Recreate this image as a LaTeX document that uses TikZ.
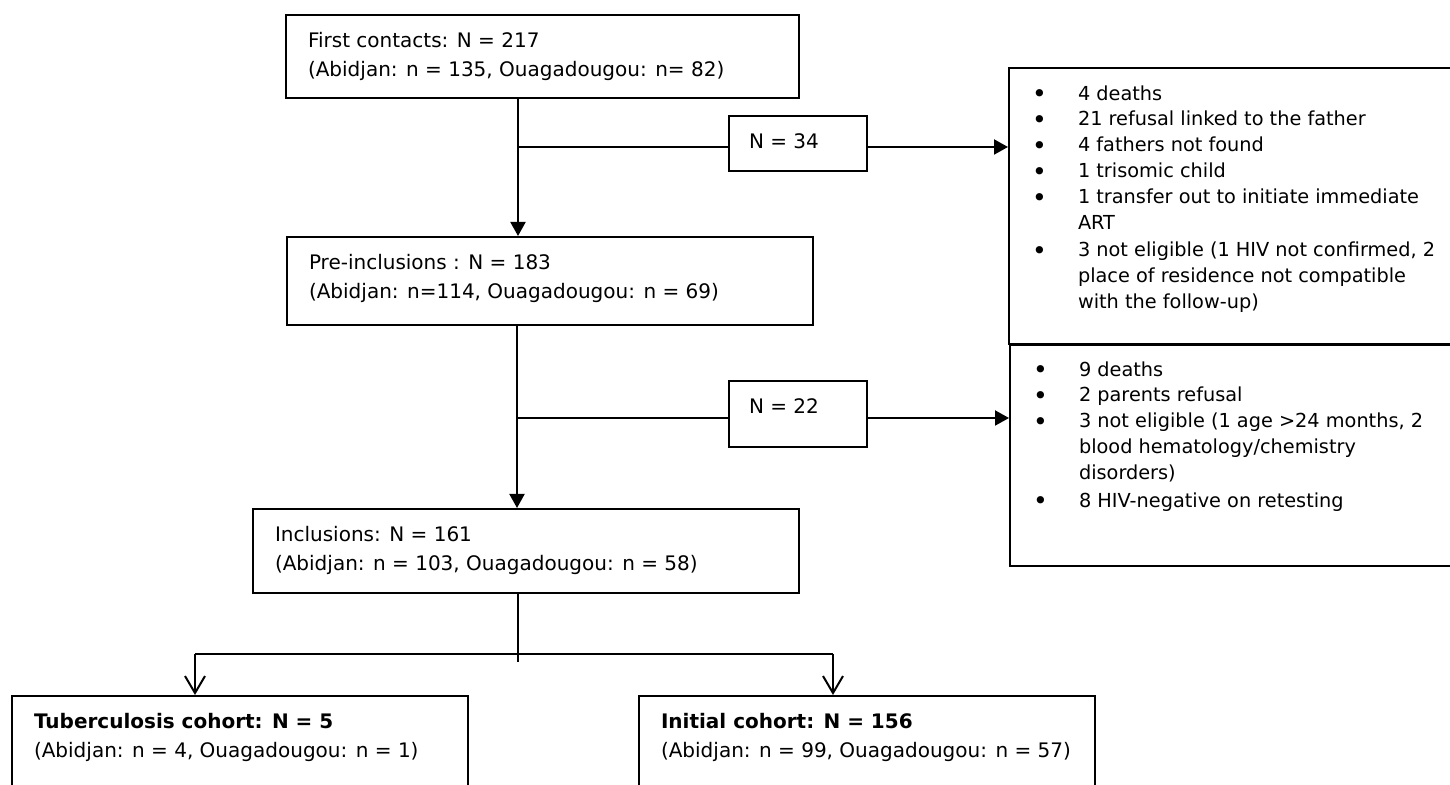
\documentclass[tikz,border=0pt]{standalone}
\usepackage{fontspec}
\setmainfont{DejaVu Sans}
\usetikzlibrary{arrows.meta}

% box text: height, width, lines (text sits at the top)
\newcommand{\boxbody}[3]{\parbox[c][#1][t]{#2}{\vspace*{6pt}\raggedright\strut#3}}
% one bullet of the side lists
\newcommand{\sideitem}[1]{\noindent\hspace*{11.5pt}%
  \makebox[23pt][l]{\raisebox{-1.4pt}{\fontsize{12.5}{12.5}\selectfont\textbullet}}%
  \parbox[t]{190pt}{\raggedright\strut#1\strut}\par}

\begin{document}
\begin{tikzpicture}[x=0.5pt, y=-0.5pt, >={Triangle[length=7pt,width=7.5pt]},
  box/.style={draw, line width=1pt, anchor=north west, inner xsep=11pt, inner ysep=0pt,
    font=\fontsize{10}{14.5}\selectfont},
  side/.style={draw, line width=1pt, anchor=north west, inner sep=0pt,
    font=\fontsize{9.65}{12.9}\selectfont},
  link/.style={line width=1pt},
  split/.style={line width=1pt, -{Straight Barb[length=8.5pt,width=10pt]}}]

\useasboundingbox (0,0) rectangle (1450,785);
\clip (0,0) rectangle (1450,785);

%--- Main column ---
\node[box] (fc) at (285,14)
  {\boxbody{41.5pt}{234.5pt}{First contacts: N = 217\\(Abidjan: n = 135, Ouagadougou: n= 82)}};
\node[box] (pi) at (286,236)
  {\boxbody{44pt}{241pt}{Pre-inclusions : N = 183\\(Abidjan: n=114, Ouagadougou: n = 69)}};
\node[box] (inc) at (252,508)
  {\boxbody{42pt}{251pt}{Inclusions: N = 161\\(Abidjan: n = 103, Ouagadougou: n = 58)}};

%--- Counts of exclusions ---
\node[box, inner xsep=10pt] (n34) at (728,115) {\boxbody{27.5pt}{49pt}{N = 34}};
\node[box, inner xsep=10pt] (n22) at (728,380) {\boxbody{33pt}{49pt}{N = 22}};

%--- Reasons ---
\node[side] (ex1) at (1008,67) {\parbox[c][138pt][t]{240pt}{\vspace*{7pt}%
  \sideitem{4 deaths}
  \sideitem{21 refusal linked to the father}
  \sideitem{4 fathers not found}
  \sideitem{1 trisomic child}
  \sideitem{1 transfer out to initiate immediate\\ART}
  \sideitem{3 not eligible (1 HIV not confirmed, 2\\place of residence not compatible\\with the follow-up)}}};
\node[side] (ex2) at (1009,344) {\parbox[c][110.5pt][t]{240pt}{\vspace*{6.5pt}%
  \sideitem{9 deaths}
  \sideitem{2 parents refusal}
  \sideitem{3 not eligible (1 age >24 months, 2\\blood hematology/chemistry\\disorders)}
  \sideitem{8 HIV-negative on retesting}}};

%--- Cohorts ---
\node[box] (tb) at (11,695)
  {\boxbody{60pt}{206pt}{\textbf{Tuberculosis cohort: N = 5}\\(Abidjan: n = 4, Ouagadougou: n = 1)}};
\node[box] (ic) at (638,695)
  {\boxbody{60pt}{206pt}{\textbf{Initial cohort: N = 156}\\(Abidjan: n = 99, Ouagadougou: n = 57)}};

%--- Branch points ---
\coordinate (b1) at (518,147);
\coordinate (b2) at (517,418);
\coordinate (b3) at (518,654);
\coordinate (b3e) at (518,662);
\coordinate (tbx) at (195,654);
\coordinate (icx) at (833,654);

%--- Connectors ---
\draw[link,->] (b1 |- fc.south) -- (b1 |- pi.north);
\draw[link] (b1) -- (n34.west |- b1);
\draw[link,->] (n34.east |- b1) -- (ex1.west |- b1);

\draw[link,->] (b2 |- pi.south) -- (b2 |- inc.north);
\draw[link] (b2) -- (n22.west |- b2);
\draw[link,->] (n22.east |- b2) -- (ex2.west |- b2);

\draw[link] (b3 |- inc.south) -- (b3e);
\draw[link] (tbx) -- (icx);
\draw[split] (tbx) -- (tbx |- tb.north);
\draw[split] (icx) -- (icx |- ic.north);

\end{tikzpicture}
\end{document}
